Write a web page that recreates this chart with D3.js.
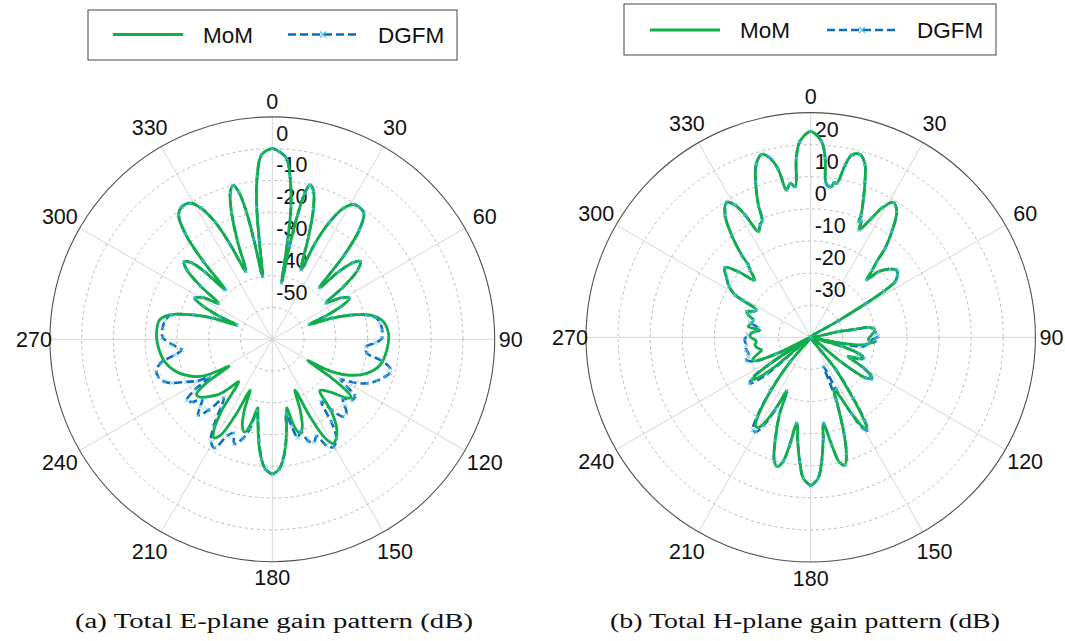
<!DOCTYPE html>
<html>
<head>
<meta charset="utf-8">
<script src="https://cdn.jsdelivr.net/npm/d3@7"></script>
<style>
  body { margin: 0; background: #fff; }
  text { font-family: "Liberation Sans", Arial, sans-serif; fill: #111; }
</style>
</head>
<body>
<svg id="chart" width="1065" height="641"></svg>
<script>
// ---- data (angle in degrees, clockwise from top; gain in dB) ----
const thetaTicks = [0, 30, 60, 90, 120, 150, 180, 210, 240, 270, 300, 330];

const eRings = [-50, -40, -30, -20, -10, 0];
const hRings = [-30, -20, -10, 0, 10, 20];

const eMomAng = [-180,-177,-175,-173,-171.5,-169.5,-168,-166,-163.5,-161,-158.5,-156.5,-154,-151.5,-149.3,-147,-144.5,-141.5,-139,-136,-132,-129,-126,-123.5,-122,-120,-118,-114,-108.7,-101.8,-93.7,-87,-80.2,-76.6,-72.9,-70.5,-68,-66.5,-64.5,-62,-59,-56.3,-53.5,-51,-48.7,-46.5,-45,-43.5,-41.5,-39.5,-37,-34.3,-31,-28.5,-26,-24,-21.3,-19.5,-17.8,-16,-14.3,-12.8,-11.5,-10.5,-8.8,-7.5,-6.7,-5.3,-3.3,0,2,4.5,6.2,8,8.8,9.4,10.5,11.5,12.5,13.7,15.5,17.5,19.5,22.5,24,26,28.5,31,33,36,38.5,40.5,42.5,44.5,46.5,48.5,51,53.5,56,59,62,64.5,66.5,68,70.5,72.9,75.5,80,87,95.3,103.4,109.8,115.6,119,121,123,125,126.5,128.5,132,137,141,145,149.6,152,154,156,158.5,161,163.5,166,168,169.5,171.5,173,175,177];
const eMomVal = [-17.5,-19,-21.8,-26,-30,-35,-38,-33,-29.5,-31,-36,-42.5,-33,-25.5,-24,-26.5,-33,-43,-40,-36,-33,-31,-30.5,-35,-44,-39.7,-35.4,-31.6,-28.1,-25.4,-24,-23.5,-24,-26.8,-33.9,-40,-48,-42,-36,-32.4,-34.5,-39.5,-32,-25.5,-23,-25,-30,-38.5,-27,-17,-11,-9.5,-10,-13,-19,-27,-37,-27,-18,-12,-10,-12.5,-19,-28,-40,-28.4,-18,-8.5,-1.8,0,-0.8,-2.9,-8.4,-17.7,-28.3,-42,-30,-20,-13,-10,-11.5,-17,-26,-36.3,-27,-19,-13,-10.5,-10.2,-11,-16,-25,-38,-30,-25,-23,-25.5,-32,-39.5,-34.5,-32.5,-36,-42,-47.5,-40,-34,-29,-25,-23.4,-23.8,-25.1,-28.4,-34,-40,-47,-38,-31,-29,-30.5,-35,-38,-30,-24.5,-22,-25,-33,-42.5,-36,-31,-29,-32,-38,-35,-30,-26,-21.8,-19];

const eDgfmAng = [-180,-177,-175,-172.5,-170,-168,-166,-163.5,-160,-157.5,-155,-152,-149,-146,-143,-140.5,-138,-135.6,-133,-130.5,-128,-125.5,-123,-121,-119,-116.3,-113.5,-111.5,-108.5,-105.6,-102,-99,-96.7,-93,-89,-84,-80,-76.6,-72.9,-70.5,-68,-66.5,-64.5,-62,-59,-56.3,-53.5,-51,-48.7,-46.5,-45,-43.5,-41.5,-39.5,-37,-34.3,-31,-28.5,-26,-24,-21.3,-19.5,-17.8,-16,-14.3,-12.8,-11.5,-10.5,-8.8,-7.5,-6.7,-5.3,-3.3,0,2,4.5,6.2,8,8.8,9.4,10.5,11.5,12.5,13.7,15.5,17.5,19.5,22.5,24,26,28.5,31,33,36,38.5,40.5,42.5,44.5,46.5,48.5,51,53.5,56,59,62,64.5,66.5,68,70.5,72.9,75.5,78,81.5,85,89.5,92,94.5,98.4,101,103.8,106,108.3,111.5,115,118,120.5,122.5,124.5,127.4,130,132.5,135,137.4,140,142,144.5,147,150.4,153,155.5,158,160.5,163,165.5,167.5,169.5,171.5,173,175,177];
const eDgfmVal = [-17.5,-19,-22,-28,-34,-37,-31,-27.5,-25,-28,-26.5,-21.3,-22.5,-27,-33,-36,-30,-26.6,-29,-31,-28,-27,-31,-37,-33,-29.8,-25.5,-23.6,-22.3,-22.1,-24,-29,-31.2,-28.5,-25.5,-25.3,-25.8,-27.2,-34,-40,-48,-42,-36,-32.4,-34.5,-39.5,-32,-25.5,-23,-25,-30,-38.5,-27,-17,-11,-9.5,-10,-13,-19,-27,-37,-27,-18,-12,-10,-12.5,-19,-28,-40,-28.4,-18,-8.5,-1.8,0,-0.8,-2.9,-8.4,-17.7,-28.3,-42,-30,-20,-13,-10,-11.5,-17,-26,-36.3,-27,-19,-13,-10.5,-10.2,-11,-16,-25,-38,-30,-25,-23,-25.5,-32,-39.5,-34.5,-32.5,-36,-42,-47.5,-40,-34,-29.5,-26.8,-25.7,-25.3,-25.5,-27.5,-30.4,-29.9,-25,-21.8,-21.5,-22.6,-24.5,-27.2,-31,-35,-32,-28.5,-28.5,-31,-29,-27,-26.9,-31,-35,-28,-23,-21,-22.5,-26.5,-25,-26,-29.5,-28,-32,-36,-30,-26,-21.8,-19];

const hMomAng = [-180,-177,-175,-173,-170.8,-169,-167.5,-165.5,-163.5,-161,-158,-156,-154,-152,-150,-148,-146,-143,-140,-134,-129.5,-127.5,-126,-124.5,-122.5,-119,-116,-114,-112,-110,-107,-104.5,-101,-97.8,-94,-89.4,-86,-82,-80.3,-76.5,-73.2,-70.5,-68,-65.5,-63.2,-61.5,-60.8,-58,-54.9,-50.9,-47.8,-44.5,-42,-40.8,-40,-37.7,-35,-31.9,-29.8,-28.2,-26.3,-24.3,-22.5,-21.6,-19.5,-17.5,-15,-13,-11,-9.3,-7.6,-5.9,-4.6,-3.2,0,3.2,4.6,5.5,6.7,7.9,8.6,9.6,11.3,12.7,15.1,17.5,19.2,20.8,22.4,22.6,23.5,24.2,27.1,28.8,31.5,34.4,37.5,39.9,41.1,42.5,44.3,45.9,49.3,52,54.5,56.6,57.8,58.5,59.2,68,78.4,79.8,80.2,82,84,86,87.8,92,95,93.8,98.5,101,103,106,109,111.7,114,117,120,122.5,124.6,126.5,129,134,142,145,147,148.5,150,152,154,156,158,161,163,165,167,169,171.6,173,175,177];
const hMomVal = [6.3,4,-1,-7,-12.9,-6,-0.5,1.6,0,-6,-14,-21.7,-16,-10.5,-7.5,-7.5,-11,-20,-30,-45,-26,-19,-17.4,-19.5,-28,-45,-30,-23,-20.5,-21,-23,-24.2,-23,-22.5,-23,-21.1,-21.5,-24,-20.3,-21,-21.3,-19.5,-18.5,-20.5,-21,-16,-13,-10,-8,-5.6,-9.6,-15,-11.8,-10.2,-6.5,0.3,6.5,9.5,7.5,3.2,-3.3,-1.6,-0.5,4.3,11.4,16.5,19,17.5,13.5,6.5,8.4,7.2,16,21,24.1,21,16,8.7,7.3,7.4,8.8,8.6,14.7,18.2,19,16.3,11.4,6.3,1.2,-1,-0.5,-3.3,1.7,5.9,9.3,7.4,1.5,-3.9,-8.7,-11.5,-15,-10.6,-7.4,-6,-6.8,-8.5,-13,-20,-30,-45,-31.2,-26,-21.8,-20.3,-19.9,-20.5,-21,-22,-20.9,-19.7,-23.9,-31.2,-45,-30,-24,-22.3,-24,-27,-21,-18,-17.5,-19,-28,-45,-28,-18,-10,-6.6,-8,-14,-20,-22.6,-18,-8,-2,1.2,0,-6,-12.9,-8,-1,4];

const hDgfmAng = [-180,-177,-175,-173,-170.8,-169,-167.5,-165.5,-163.5,-161,-158,-156,-154,-152,-150,-148,-146,-143,-140,-134,-130,-127.2,-125,-123,-119,-116,-113,-109.5,-107,-104.5,-101,-97,-92,-88,-84,-80,-76.5,-73.2,-70.5,-68,-65.5,-63.2,-61.5,-60.8,-58,-54.9,-50.9,-47.8,-44.5,-42,-40.8,-40,-37.7,-35,-31.9,-29.8,-28.2,-26.3,-24.3,-22.5,-21.6,-19.5,-17.5,-15,-13,-11,-9.3,-7.6,-5.9,-4.6,-3.2,0,3.2,4.6,5.5,6.7,7.9,8.6,9.6,11.3,12.7,15.1,17.5,19.2,20.8,22.4,22.6,23.5,24.2,27.1,28.8,31.5,34.4,37.5,39.9,41.1,42.5,44.3,45.9,49.3,52,54.5,56.6,57.8,58.5,59.2,68,78.4,79.8,80.2,82,84,87,89,91,94,98,100.5,103,106,109,111.7,114,117,120,122.5,124.6,126.5,129,134,142,145,147,148.5,150,152,154,156,158,161,163,165,167,169,171.6,173,175,177];
const hDgfmVal = [6.3,4,-1,-7,-12.9,-6,-0.5,1.6,0,-6,-14,-21.7,-15,-9,-6,-6,-10,-19,-30,-45,-22,-16.3,-17.5,-25,-45,-28,-21,-18.8,-19.5,-20,-19.5,-19.8,-19.4,-20.5,-22.5,-23.5,-21,-21.3,-19.5,-18.5,-20.5,-21,-16,-13,-10,-8,-5.6,-9.6,-15,-11.8,-10.2,-6.5,0.3,6.5,9.5,7.5,3.2,-3.3,-1.6,-0.5,4.3,11.4,16.5,19,17.5,13.5,6.5,8.4,7.2,16,21,24.1,21,16,8.7,7.3,7.4,8.8,8.6,14.7,18.2,19,16.3,11.4,6.3,1.2,-1,-0.5,-3.3,1.7,5.9,9.3,7.4,1.5,-3.9,-8.7,-11.5,-15,-10.6,-7.4,-6,-6.8,-8.5,-13,-20,-30,-45,-31.2,-26,-21.8,-20.3,-19.9,-19.5,-19,-20,-21.8,-22.5,-24,-45,-30,-24,-22,-23.5,-26,-21,-17.5,-17,-18.5,-28,-45,-27,-17,-9,-6,-7,-13,-22,-30,-19,-8,-2,1.2,0,-6,-12.9,-8,-1,4];

// ---- layout ----
const svg = d3.select("#chart");
const green = "#0fae4b";
const blue = "#0a6fc2";
const markBlue = "#4dbeee";

function drawPolar(opt) {
  const g = svg.append("g").attr("transform", `translate(${opt.cx},${opt.cy})`);
  const r = d3.scaleLinear().domain(opt.domain).range([0, opt.R]).clamp(true);
  const rad = d => d * Math.PI / 180;

  // spokes
  g.selectAll("line.spoke").data(thetaTicks).join("line")
    .attr("class", "spoke")
    .attr("x1", 0).attr("y1", 0)
    .attr("x2", d => opt.R * Math.sin(rad(d)))
    .attr("y2", d => -opt.R * Math.cos(rad(d)))
    .attr("stroke", "#d6d6d6")
    .attr("stroke-width", 1);

  // dashed rings
  g.selectAll("circle.ring").data(opt.rings).join("circle")
    .attr("class", "ring")
    .attr("r", d => r(d))
    .attr("fill", "none")
    .attr("stroke", "#b4b4b4")
    .attr("stroke-width", 0.9)
    .attr("stroke-dasharray", "3,3");

  g.append("circle")
    .attr("r", opt.R)
    .attr("fill", "none")
    .attr("stroke", "#505050")
    .attr("stroke-width", 1.1);

  // angle labels
  g.selectAll("text.theta").data(thetaTicks).join("text")
    .attr("class", "theta")
    .attr("x", d => (opt.R + 16 + 8 * Math.abs(Math.sin(rad(2 * d)))) * Math.sin(rad(d)))
    .attr("y", d => -(opt.R + 16 + 8 * Math.abs(Math.sin(rad(2 * d)))) * Math.cos(rad(d)))
    .attr("dy", "0.36em")
    .attr("text-anchor", "middle")
    .style("font-size", "21.5px")
    .text(d => d);

  // radial labels
  g.selectAll("text.rlab").data(opt.rings).join("text")
    .attr("class", "rlab")
    .attr("x", 4)
    .attr("y", d => -r(d) - 8)
    .style("font-size", "21.5px")
    .text(d => d);

  const line = d3.lineRadial()
    .angle(d => rad(d[0]))
    .radius(d => r(d[1]))
    .curve(d3.curveCatmullRom.alpha(0.5));

  const close = pts => pts.concat([[pts[0][0] + 360, pts[0][1]]]);
  const dg = d3.zip(opt.dgAng, opt.dgVal);
  const mom = d3.zip(opt.momAng, opt.momVal);

  g.append("path")
    .attr("d", line(close(dg)))
    .attr("fill", "none")
    .attr("stroke", blue)
    .attr("stroke-width", 2.6)
    .attr("stroke-dasharray", "8,4");

  g.append("path")
    .attr("d", line(close(mom)))
    .attr("fill", "none")
    .attr("stroke", green)
    .attr("stroke-width", 2.8)
    .attr("stroke-linejoin", "round");

  g.selectAll("path.mk").data(dg).join("path")
    .attr("class", "mk")
    .attr("transform", d => `translate(${r(d[1]) * Math.sin(rad(d[0]))},${-r(d[1]) * Math.cos(rad(d[0]))})`)
    .attr("d", "M-2,-2L2,2M-2,2L2,-2")
    .attr("stroke", markBlue)
    .attr("stroke-width", 0.9);
}

function drawLegend(x, y, w, h, lx, tx, ly, ty) {
  const g = svg.append("g");
  g.append("rect")
    .attr("x", x).attr("y", y).attr("width", w).attr("height", h)
    .attr("fill", "#fff").attr("stroke", "#444").attr("stroke-width", 1);
  g.append("line")
    .attr("x1", lx[0]).attr("x2", lx[0] + 70).attr("y1", ly).attr("y2", ly)
    .attr("stroke", green).attr("stroke-width", 2.8);
  g.append("text").attr("x", tx[0]).attr("y", ty).style("font-size", "22.5px").text("MoM");
  g.append("line")
    .attr("x1", lx[1]).attr("x2", lx[1] + 70).attr("y1", ly).attr("y2", ly)
    .attr("stroke", blue).attr("stroke-width", 2.6).attr("stroke-dasharray", "8,4");
  g.append("path")
    .attr("transform", `translate(${lx[1] + 35},${ly})`)
    .attr("d", "M-3,-3L3,3M-3,3L3,-3")
    .attr("stroke", markBlue).attr("stroke-width", 1.2);
  g.append("text").attr("x", tx[1]).attr("y", ty).style("font-size", "22.5px").text("DGFM");
}

drawPolar({
  cx: 272.3, cy: 339.3, R: 222.4, domain: [-60, 10], rings: eRings,
  momAng: eMomAng, momVal: eMomVal, dgAng: eDgfmAng, dgVal: eDgfmVal
});
drawPolar({
  cx: 810.7, cy: 337.3, R: 224.7, domain: [-40, 30], rings: hRings,
  momAng: hMomAng, momVal: hMomVal, dgAng: hDgfmAng, dgVal: hDgfmVal
});

drawLegend(88, 10, 369, 50, [113, 288], [203, 378], 34.5, 43);
drawLegend(624, 4, 372, 51, [650, 827], [740, 917], 30, 38);

svg.append("text")
  .attr("x", 75).attr("y", 628)
  .attr("textLength", 398).attr("lengthAdjust", "spacingAndGlyphs")
  .style("font-family", "'Liberation Serif', 'DejaVu Serif', serif")
  .style("font-size", "20px")
  .text("(a)  Total E-plane gain pattern (dB)");
svg.append("text")
  .attr("x", 610).attr("y", 628)
  .attr("textLength", 390).attr("lengthAdjust", "spacingAndGlyphs")
  .style("font-family", "'Liberation Serif', 'DejaVu Serif', serif")
  .style("font-size", "20px")
  .text("(b)  Total H-plane gain pattern (dB)");
</script>
</body>
</html>
